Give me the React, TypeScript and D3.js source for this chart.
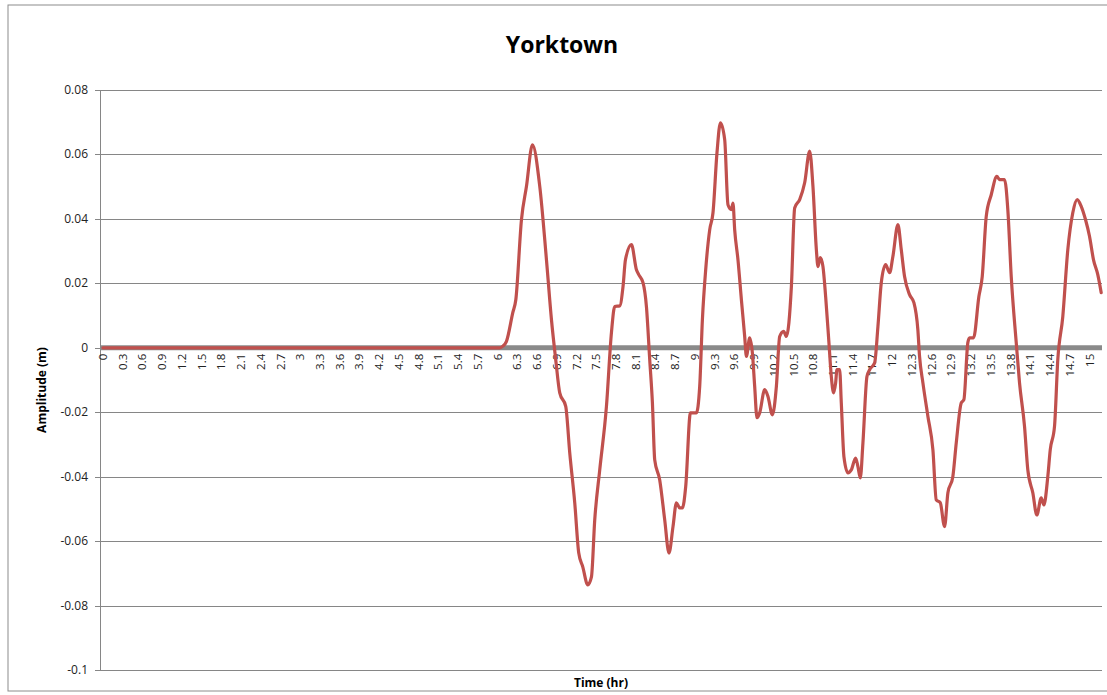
import React from "react";
import * as d3 from "d3";

// Time (hr) and amplitude (m)
const timeHr: number[] = [
  0, 6.03, 6.08, 6.135, 6.231, 6.277, 6.363, 6.439, 6.53, 6.641, 6.743, 6.819, 6.884, 6.945, 7.036,
  7.097, 7.173, 7.234, 7.295, 7.371, 7.427, 7.477, 7.553, 7.655, 7.731, 7.781, 7.857, 7.907, 7.944,
  8.035, 8.111, 8.146, 8.211, 8.263, 8.313, 8.354, 8.389, 8.465, 8.541, 8.606, 8.667, 8.719, 8.769,
  8.81, 8.86, 8.932, 9.023, 9.073, 9.114, 9.164, 9.225, 9.275, 9.336, 9.388, 9.453, 9.503, 9.555,
  9.579, 9.605, 9.655, 9.707, 9.757, 9.783, 9.833, 9.874, 9.909, 9.944, 9.985, 10.061, 10.111,
  10.178, 10.239, 10.289, 10.35, 10.391, 10.467, 10.517, 10.593, 10.669, 10.745, 10.795, 10.847,
  10.871, 10.907, 10.947, 10.988, 11.038, 11.074, 11.109, 11.14, 11.16, 11.201, 11.226, 11.266,
  11.327, 11.378, 11.444, 11.479, 11.515, 11.555, 11.616, 11.657, 11.733, 11.783, 11.834, 11.9,
  11.961, 12.011, 12.087, 12.138, 12.188, 12.264, 12.33, 12.39, 12.416, 12.467, 12.543, 12.619,
  12.67, 12.731, 12.796, 12.847, 12.922, 12.974, 13.05, 13.09, 13.15, 13.176, 13.237, 13.318,
  13.369, 13.43, 13.506, 13.591, 13.632, 13.708, 13.758, 13.81, 13.886, 13.936, 14.012, 14.062,
  14.138, 14.199, 14.266, 14.306, 14.366, 14.403, 14.468, 14.518, 14.594, 14.67, 14.746, 14.813,
  14.874, 14.939, 15.0, 15.061, 15.126, 15.178,
];
const amplitudeM: number[] = [
  0, 0, 0.0005, 0.002, 0.0109, 0.0149, 0.0398, 0.0501, 0.063, 0.0501, 0.0273, 0.0087, -0.0037, -0.014,
  -0.0182, -0.0326, -0.0481, -0.0637, -0.068, -0.0736, -0.0711, -0.0534, -0.0379, -0.0182, 0.0047,
  0.0128, 0.013, 0.019, 0.0273, 0.032, 0.0242, 0.0227, 0.0202, 0.0128, -0.0037, -0.0171, -0.0348,
  -0.041, -0.0534, -0.0637, -0.0555, -0.0481, -0.0497, -0.0497, -0.0431, -0.0202, -0.0202, -0.012,
  0.0087, 0.0242, 0.0366, 0.0419, 0.0606, 0.0698, 0.0646, 0.0444, 0.0429, 0.0449, 0.0366, 0.0273,
  0.0149, 0.0035, -0.0027, 0.0031, -0.0016, -0.012, -0.0217, -0.0202, -0.013, -0.0151, -0.0208,
  -0.012, 0.0035, 0.0051, 0.0035, 0.019, 0.0434, 0.046, 0.0512, 0.061, 0.0501, 0.0304, 0.0252,
  0.028, 0.0252, 0.0159, 0.0016, -0.0089, -0.014, -0.0109, -0.0068, -0.0068, -0.0171, -0.0338,
  -0.0388, -0.0379, -0.0342, -0.0369, -0.0404, -0.0295, -0.0089, -0.0068, -0.0047, 0.0066, 0.0202,
  0.0258, 0.0233, 0.0284, 0.0382, 0.0304, 0.0221, 0.0165, 0.014, 0.0056, -0.0027, -0.0109, -0.0213,
  -0.0317, -0.0472, -0.0481, -0.0555, -0.045, -0.04, -0.0295, -0.0171, -0.0161, 0.0016, 0.0031,
  0.0031, 0.0159, 0.0221, 0.0408, 0.0475, 0.0532, 0.0522, 0.0522, 0.0429, 0.0221, 0.0016, -0.0109,
  -0.0244, -0.0379, -0.045, -0.0519, -0.0466, -0.0488, -0.04, -0.0317, -0.0244, -0.0037, 0.0097,
  0.0304, 0.0419, 0.046, 0.0439, 0.0398, 0.0346, 0.0273, 0.0227, 0.0171,
];

// Category tick labels every 0.3 hr
const xTickLabels: string[] = d3.range(0, 51).map((i) => String(+(i * 0.3).toFixed(1)));
const yTicks: number[] = [0.08, 0.06, 0.04, 0.02, 0, -0.02, -0.04, -0.06, -0.08, -0.1];

const W = 1107;
const H = 695;
const plotLeft = 100;
const plotRight = 1102;
const plotTop = 90;
const plotBottom = 670;
const FONT = "'Open Sans', 'DejaVu Sans', sans-serif";

export default function App() {
  const x = d3.scaleLinear().domain([0, 15]).range([103, 1089.5]);
  const y = d3.scaleLinear().domain([-0.1, 0.08]).range([plotBottom, plotTop]);
  const pts: [number, number][] = timeHr.map((t, i) => [t, amplitudeM[i]]);
  const line = d3
    .line<[number, number]>()
    .x((d) => x(d[0]))
    .y((d) => y(d[1]))
    .curve(d3.curveMonotoneX);

  return (
    <svg
      width={W}
      height={H}
      style={{ position: "absolute", left: 0, top: 0, background: "#fff" }}
    >
      <rect x={8} y={5} width={W} height={686} fill="#fff" stroke="#8c8c8c" strokeWidth={1} />
      <text
        x={562}
        y={53}
        textAnchor="middle"
        fontFamily={FONT}
        fontWeight="bold"
        fontSize={23}
        fill="#000"
      >
        Yorktown
      </text>
      {/* gridlines */}
      {yTicks
        .filter((v) => v !== 0)
        .map((v) => (
          <line
            key={"g" + v}
            x1={plotLeft}
            x2={plotRight}
            y1={Math.round(y(v)) + 0.5}
            y2={Math.round(y(v)) + 0.5}
            stroke="#868686"
            strokeWidth={1}
          />
        ))}
      {/* y axis */}
      <line x1={plotLeft + 0.5} x2={plotLeft + 0.5} y1={plotTop} y2={plotBottom} stroke="#868686" />
      {yTicks.map((v) => (
        <g key={"yt" + v}>
          <line
            x1={plotLeft - 5}
            x2={plotLeft}
            y1={Math.round(y(v)) + 0.5}
            y2={Math.round(y(v)) + 0.5}
            stroke="#868686"
          />
          <text
            x={plotLeft - 12}
            y={y(v) + 4}
            textAnchor="end"
            fontFamily={FONT}
            fontSize={12}
            fill="#222"
          >
            {String(v)}
          </text>
        </g>
      ))}
      {/* zero axis */}
      <line x1={plotLeft} x2={plotRight} y1={y(0)} y2={y(0)} stroke="#8a8a8a" strokeWidth={5} />
      {xTickLabels.map((lab, i) => {
        const xp = x(i * 0.3);
        return (
          <text
            key={"xl" + i}
            transform={`translate(${xp + 4},${y(0) + 6}) rotate(-90)`}
            textAnchor="end"
            fontFamily={FONT}
            fontSize={11.5}
            fill="#222"
          >
            {lab}
          </text>
        );
      })}
      <path
        d={line(pts) || ""}
        fill="none"
        stroke="#C0504D"
        strokeWidth={3.2}
        strokeLinejoin="round"
        strokeLinecap="round"
      />
      <text
        transform={`translate(46,${(plotTop + plotBottom) / 2 + 10}) rotate(-90)`}
        textAnchor="middle"
        fontFamily={FONT}
        fontWeight="bold"
        fontSize={12}
        fill="#000"
      >
        Amplitude (m)
      </text>
      <text
        x={601}
        y={687}
        textAnchor="middle"
        fontFamily={FONT}
        fontWeight="bold"
        fontSize={12}
        fill="#000"
      >
        Time (hr)
      </text>
    </svg>
  );
}
